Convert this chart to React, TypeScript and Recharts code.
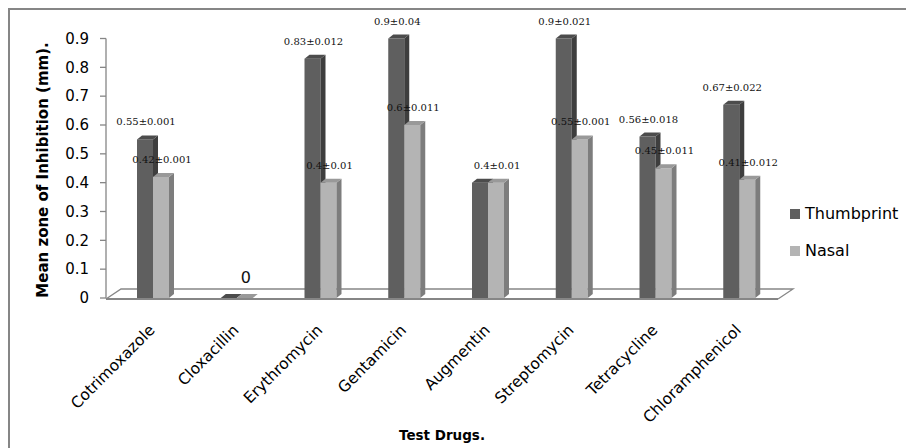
import React from 'react';
import { BarChart, Bar, XAxis, YAxis, LabelList, Legend, ReferenceLine } from 'recharts';

const categories = ['Cotrimoxazole', 'Cloxacillin', 'Erythromycin', 'Gentamicin', 'Augmentin', 'Streptomycin', 'Tetracycline', 'Chloramphenicol'];
const thumbprint = [0.55, 0, 0.83, 0.9, 0.4, 0.9, 0.56, 0.67];
const nasal = [0.42, 0, 0.4, 0.6, 0.4, 0.55, 0.45, 0.41];
const thumbprintLabels = ['0.55±0.001', '', '0.83±0.012', '0.9±0.04', '', '0.9±0.021', '0.56±0.018', '0.67±0.022'];
const nasalLabels = ['0.42±0.001', '0', '0.4±0.01', '0.6±0.011', '0.4±0.01', '0.55±0.001', '0.45±0.011', '0.41±0.012'];
const yTicks = [0, 0.1, 0.2, 0.3, 0.4, 0.5, 0.6, 0.7, 0.8, 0.9];
const seriesOrder = ['Thumbprint', 'Nasal'];

const data = categories.map((name, i) => ({
  name,
  Thumbprint: thumbprint[i],
  Nasal: nasal[i],
  tLabel: thumbprintLabels[i],
  nLabel: nasalLabels[i],
}));

const FONT = '"DejaVu Sans", sans-serif';
const GRID = '#868686';

const make3D = (front: string, side: string, top: string) => (props: any) => {
  const { x, y, width, height } = props;
  const d = 5;
  const dy = 4;
  const h = Math.max(Number(height) || 0, 0);
  return (
    <g>
      {h > 0 && <rect x={x} y={y} width={width} height={h} fill={front} />}
      <polygon
        points={`${x + width},${y} ${x + width + d},${y - dy} ${x + width + d},${y + h - dy} ${x + width},${y + h}`}
        fill={side}
      />
      <polygon points={`${x},${y} ${x + d},${y - dy} ${x + width + d},${y - dy} ${x + width},${y}`} fill={top} />
    </g>
  );
};

const renderLabel = (props: any) => {
  const { x, y, width, value } = props;
  if (!value) return null;
  const plain = !String(value).includes('±');
  return (
    <text
      x={x + width / 2 + 1}
      y={y - (plain ? 15 : 14)}
      textAnchor="middle"
      fontFamily={plain ? FONT : '"DejaVu Serif", serif'}
      fontSize={plain ? 16 : 10}
      fill="#111"
    >
      {value}
    </text>
  );
};

const XTick = (props: any) => {
  const { x, y, payload } = props;
  const tx = x + 3;
  const ty = y + 31;
  return (
    <text x={tx} y={ty} transform={`rotate(-45 ${tx} ${ty})`} textAnchor="end" fontFamily={FONT} fontSize={15.5} fill="#000">
      {payload.value}
    </text>
  );
};

const Floor = (props: any) => {
  const { x1, y1, x2 } = props;
  const fy = y1 + 1;
  const bx = 15;
  const by = 10;
  return (
    <g fill="none" stroke={GRID}>
      <polyline points={`${x1},${fy} ${x1 + bx},${fy - by} ${x2 + bx - 3},${fy - by} ${x2 - 3},${fy}`} strokeWidth={1.3} />
      <line x1={x1} y1={fy} x2={x2 - 3} y2={fy} strokeWidth={2} />
    </g>
  );
};

const YTitle = () => (
  <text
    x={43}
    y={170}
    transform="rotate(-90 43 170)"
    textAnchor="middle"
    dominantBaseline="central"
    fontFamily={FONT}
    fontWeight="bold"
    fontSize={15}
    fill="#000"
  >
    Mean zone of Inhibition (mm).
  </text>
);

const XTitle = () => (
  <text x={442} y={440} textAnchor="middle" fontFamily={FONT} fontWeight="bold" fontSize={13.5} fill="#000">
    Test Drugs.
  </text>
);

const LegendContent = (props: any) => {
  const { payload } = props;
  const items = [...(payload || [])].sort((a: any, b: any) => seriesOrder.indexOf(a.value) - seriesOrder.indexOf(b.value));
  return (
    <div style={{ fontFamily: FONT, fontSize: 16, color: '#000' }}>
      {items.map((p: any) => (
        <div key={p.value} style={{ display: 'flex', alignItems: 'center', height: 37 }}>
          <span style={{ display: 'inline-block', width: 10, height: 10, background: p.color, marginRight: 5 }} />
          <span>{p.value}</span>
        </div>
      ))}
    </div>
  );
};

export default function App() {
  return (
    <div style={{ position: 'absolute', left: 0, top: 0, width: 906, height: 448, overflow: 'hidden', background: '#fff' }}>
      <div
        style={{
          position: 'absolute',
          left: 8,
          top: 8,
          width: 960,
          height: 500,
          borderTop: `2px solid ${GRID}`,
          borderLeft: `2px solid ${GRID}`,
        }}
      />
      <div style={{ position: 'absolute', left: 0, top: 0 }}>
        <BarChart
          width={906}
          height={448}
          data={data}
          margin={{ top: 38.5, right: 125, left: 0, bottom: 0 }}
          barGap={0}
          barSize={16}
        >
          <ReferenceLine y={0} shape={Floor} ifOverflow="visible" zIndex={0} />
          <XAxis
            dataKey="name"
            interval={0}
            tick={<XTick />}
            tickLine={false}
            axisLine={false}
            tickSize={0}
            height={150}
            padding={{ left: 5, right: 0 }}
            label={<XTitle />}
          />
          <YAxis
            domain={[0, 0.9]}
            ticks={yTicks}
            width={106}
            tickSize={6}
            tickMargin={11}
            axisLine={{ stroke: GRID, strokeWidth: 1.3 }}
            tickLine={{ stroke: GRID, strokeWidth: 1.3 }}
            tick={{ fontFamily: FONT, fontSize: 15, fill: '#000' }}
            label={<YTitle />}
          />
          <Legend
            layout="vertical"
            align="center"
            verticalAlign="middle"
            content={<LegendContent />}
            wrapperStyle={{ left: 790, top: 195, width: 120 }}
          />
          <Bar dataKey="Thumbprint" fill="#5f5f5f" isAnimationActive={false} shape={make3D('#5f5f5f', '#3e3e3e', '#4c4c4c')}>
            <LabelList dataKey="tLabel" content={renderLabel} />
          </Bar>
          <Bar dataKey="Nasal" fill="#b4b4b4" isAnimationActive={false} shape={make3D('#b4b4b4', '#7d7d7d', '#999999')}>
            <LabelList dataKey="nLabel" content={renderLabel} />
          </Bar>
        </BarChart>
      </div>
    </div>
  );
}
